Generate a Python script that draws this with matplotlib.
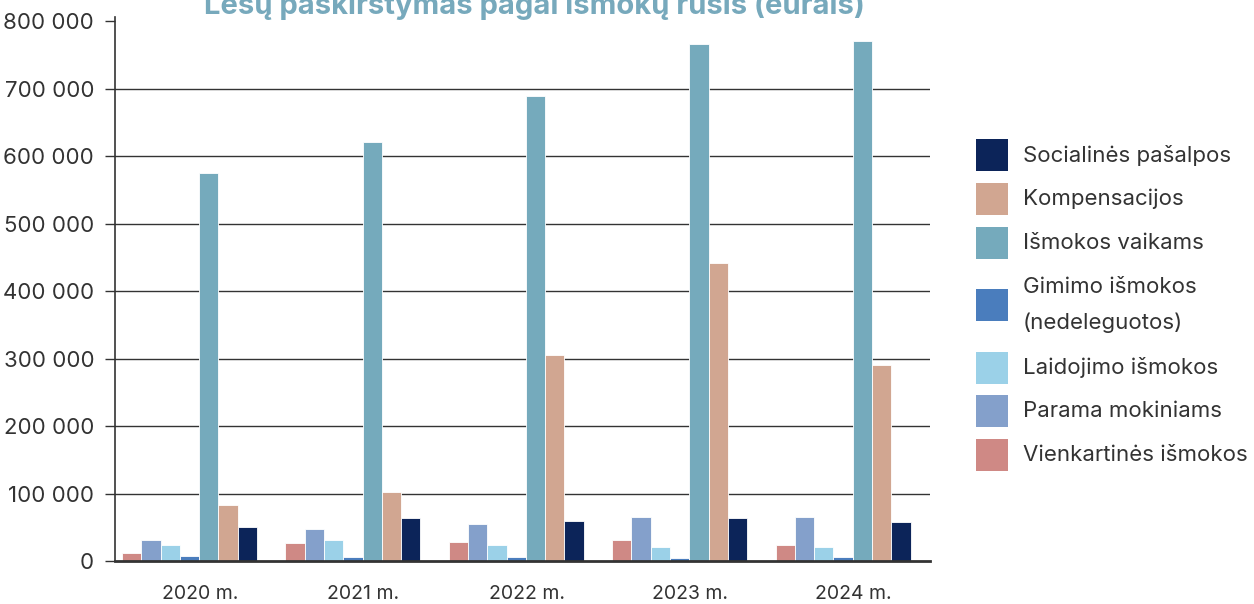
import matplotlib
matplotlib.use('Agg')
import matplotlib.pyplot as plt
import matplotlib.ticker as mticker
from matplotlib.patches import Rectangle
import numpy as np

plt.rcParams['font.family'] = ['Inter', 'DejaVu Sans']

TEXT = '#333333'
TITLE = '#77A9BC'

years = ['2020 m.', '2021 m.', '2022 m.', '2023 m.', '2024 m.']

# series in drawing order (left to right within a group)
series = [
    'Vienkartinės išmokos',
    'Parama mokiniams',
    'Laidojimo išmokos',
    'Gimimo išmokos\n(nedeleguotos)',
    'Išmokos vaikams',
    'Kompensacijos',
    'Socialinės pašalpos',
]
colors = ['#CF8985', '#84A0CB', '#9BD1E8', '#4A7DBD', '#75AABC', '#D1A691', '#0C2459']

vienkartines = [12000, 27000, 28000, 31000, 24000]
parama = [31000, 47000, 55000, 65000, 65000]
laidojimo = [24000, 31000, 24000, 21000, 21000]
gimimo = [7000, 6000, 6000, 5000, 6000]
vaikams = [575000, 621000, 689000, 766000, 770000]
kompensacijos = [83000, 102000, 305000, 442000, 291000]
socialines = [50000, 64000, 59000, 64000, 58000]

values = [vienkartines, parama, laidojimo, gimimo, vaikams, kompensacijos, socialines]

W, H = 1254, 604
fig = plt.figure(figsize=(W / 100, H / 100), dpi=100, facecolor='white')
ax = fig.add_axes([115 / W, 43 / H, 815 / W, 544 / H])

x = np.arange(len(years))
w = 0.118
for i, (name, vals, col) in enumerate(zip(series, values, colors)):
    ax.bar(x + (i - 3) * w, vals, width=w, color=col, edgecolor='white',
           linewidth=0.6, label=name, zorder=3)

ax.set_xlim(-0.456, 4.532)
ax.set_ylim(0, 806000)
ax.set_yticks(np.arange(0, 800001, 100000))
ax.yaxis.set_major_formatter(mticker.FuncFormatter(lambda v, p: f'{int(v):,}'.replace(',', ' ')))
for yv in range(100000, 700001, 100000):
    ax.axhline(yv, color='#333333', linewidth=1.0, zorder=1)

ax.set_xticks(x + 0.065)
ax.set_xticklabels(years)
ax.tick_params(axis='x', length=0, pad=17, labelsize=14, colors=TEXT)
ax.tick_params(axis='y', length=7, width=1.0, color='#333333', labelsize=16, colors=TEXT, pad=8)

ax.spines['top'].set_visible(False)
ax.spines['right'].set_visible(False)
ax.spines['left'].set_color('#333333')
ax.spines['left'].set_linewidth(1.2)
ax.spines['bottom'].set_color('#333333')
ax.spines['bottom'].set_linewidth(2)
ax.spines['bottom'].set_zorder(4)

# legend, top to bottom (reverse of bar order)
rows = [155, 199, 243, 305, 368, 411, 455]
for yc, name, col in zip(rows, series[::-1], colors[::-1]):
    fig.patches.append(Rectangle((976 / W, 1 - (yc + 16) / H), 32 / W, 32 / H,
                                 transform=fig.transFigure, facecolor=col, edgecolor='none'))
    fig.text(1023 / W, 1 - yc / H, name, ha='left', va='center', fontsize=16,
             color=TEXT, linespacing=1.9)

fig.text(534 / W, 1 - 14 / H, 'Lėšų paskirstymas pagal išmokų rūšis (eurais)',
         ha='center', va='baseline', fontsize=21, fontweight='bold', color=TITLE)

plt.savefig('out.png', dpi=100, facecolor='white')
plt.close()
